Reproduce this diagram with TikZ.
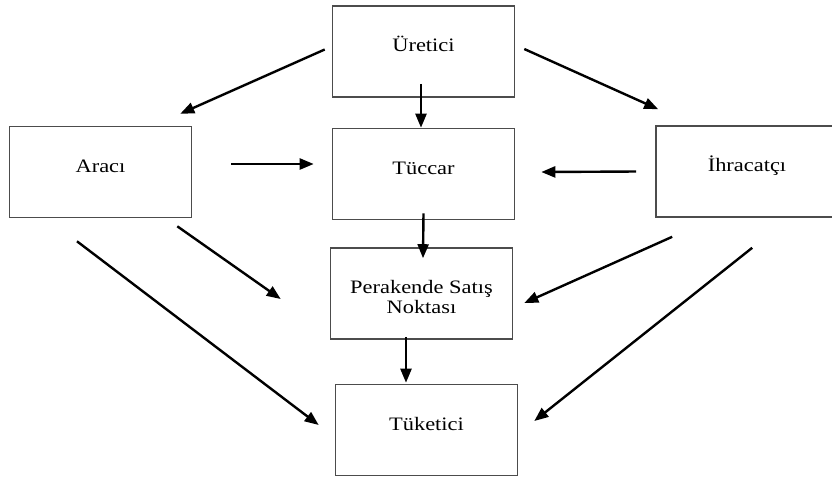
\documentclass[tikz,border=0pt]{standalone}
\usepackage{fontspec}
\setmainfont{Liberation Serif}[FakeStretch=1.18]
\usetikzlibrary{arrows.meta,calc}
\begin{document}
\begin{tikzpicture}[x=0.5pt,y=-0.5pt,
            kutu/.style={draw=black!70, line width=0.8pt, minimum width=91pt, minimum height=45.5pt,
            inner sep=0pt, text height=6pt, text depth=6pt, align=center,
            font=\fontsize{9.5}{10}\selectfont},
            ok/.style={-{Triangle[length=7pt,width=5.5pt]}, line width=1.2pt}]
            \useasboundingbox (0,0) rectangle (832,479) ;
            \node[kutu] (uretici) at (423.5,51.5) {Üretici} ;
            \node[kutu] (araci) at (100.5,172) {Aracı} ;
            \node[kutu] (tuccar) at (423.5,174) {Tüccar} ;
            \node[kutu, minimum width=110pt] (ihracatci) at (766,171.5) {\hspace*{-19pt}İhracatçı} ;
            \node[kutu, text height=22pt, text depth=2pt] (perakende) at (421.5,293.5) {Perakende Satış\\Noktası} ;
            \node[kutu] (tuketici) at (426.5,430) {Tüketici} ;
            \draw[ok] ($(uretici.west)+(-7,-2)$) -- ($(araci.north east)+(-12,-12)$) ;
            \draw[ok] ($(uretici.south)+(-2.5,-14)$) -- ($(tuccar.north)+(-2.5,0)$) ;
            \draw[ok] ($(uretici.east)+(9,-2.5)$) -- ($(ihracatci.north west)+(3,-16)$) ;
            \draw[ok] ($(araci.east)+(39,-8)$) -- ($(tuccar.west)+(-18,-10)$) ;
            \draw[ok] ($(ihracatci.west)+(-19,0)$) -- ($(tuccar.east)+(26,-2)$) ;
            \draw[ok] ($(tuccar.south)+(0,-7)$) -- ($(perakende.north)+(1.5,11)$) ;
            \draw[ok] ($(araci.south east)+(-15,8)$) -- ($(perakende.west)+(-49,5.5)$) ;
            \draw[ok] ($(araci.south)+(-23.5,23)$) -- ($(tuketici.west)+(-16,-5)$) ;
            \draw[ok] ($(ihracatci.south west)+(17,19)$) -- ($(perakende.east)+(11,9.5)$) ;
            \draw[ok] ($(ihracatci.south west)+(97,30)$) -- ($(tuketici.east)+(16,-9)$) ;
            \draw[ok] ($(perakende.south)+(-15.5,-3)$) -- ($(tuketici.north)+(-20.5,-1)$) ;
            \end{tikzpicture}
\end{document}
